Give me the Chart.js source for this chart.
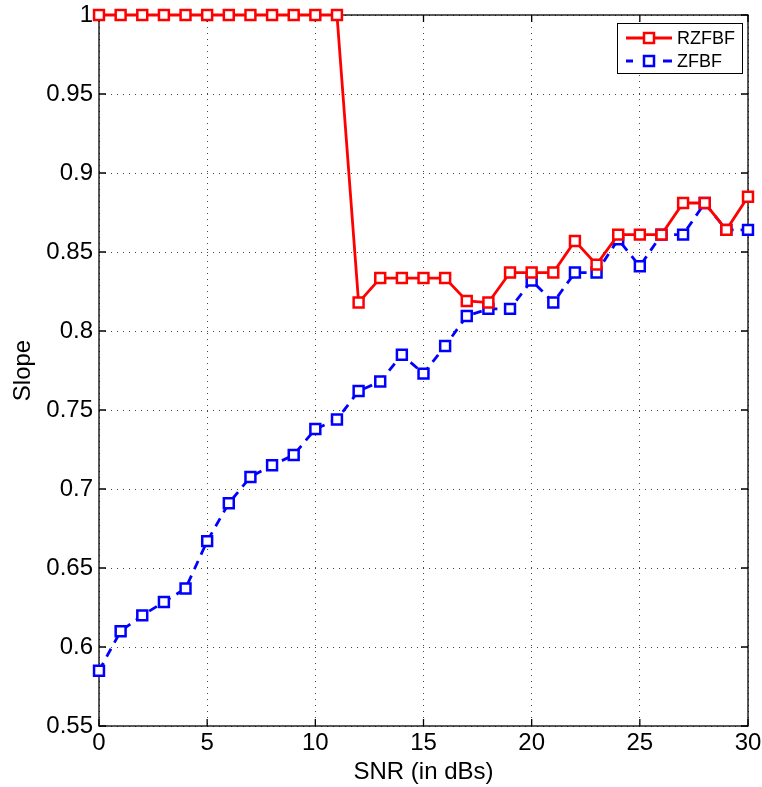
<!DOCTYPE html>
<html>
<head>
<meta charset="utf-8">
<script src="https://cdn.jsdelivr.net/npm/chart.js@4/dist/chart.umd.min.js"></script>
<style>
  html,body{margin:0;padding:0;background:#fff;}
  #wrap{width:762px;height:787px;position:relative;}
</style>
</head>
<body>
<div id="wrap"><canvas id="c" width="762" height="787"></canvas></div>
<script>
const snr = [0,1,2,3,4,5,6,7,8,9,10,11,12,13,14,15,16,17,18,19,20,21,22,23,24,25,26,27,28,29,30];
const rzfbf = [1,1,1,1,1,1,1,1,1,1,1,1,0.818,0.8335,0.8335,0.8335,0.8335,0.819,0.818,0.837,0.837,0.837,0.857,0.842,0.861,0.861,0.861,0.881,0.881,0.864,0.885];
const zfbf = [0.585,0.610,0.620,0.6285,0.637,0.667,0.691,0.7076,0.715,0.7215,0.738,0.744,0.762,0.768,0.785,0.773,0.7905,0.8095,0.814,0.814,0.832,0.818,0.837,0.837,0.858,0.841,0.861,0.861,0.881,0.864,0.864];
const seriesNames = ['RZFBF','ZFBF'];
const yTicks = [0.55,0.6,0.65,0.7,0.75,0.8,0.85,0.9,0.95,1];
const xTicks = [0,5,10,15,20,25,30];

const FONT = "'Liberation Sans', Arial, Helvetica, sans-serif";

const framePlugin = {
  id: 'frame',
  beforeDatasetsDraw(chart) {
    const {ctx, chartArea: a, scales: {x, y}} = chart;
    ctx.save();
    ctx.strokeStyle = '#000';
    ctx.lineWidth = 1.3;
    ctx.strokeRect(a.left, a.top, a.right - a.left, a.bottom - a.top);
    ctx.beginPath();
    x.ticks.forEach(t => {
      const px = x.getPixelForValue(t.value);
      ctx.moveTo(px, a.bottom); ctx.lineTo(px, a.bottom - 7);
      ctx.moveTo(px, a.top); ctx.lineTo(px, a.top + 7);
    });
    y.ticks.forEach(t => {
      const py = y.getPixelForValue(t.value);
      ctx.moveTo(a.left, py); ctx.lineTo(a.left + 7, py);
      ctx.moveTo(a.right, py); ctx.lineTo(a.right - 7, py);
    });
    ctx.stroke();
    ctx.restore();
  }
};

const legendPlugin = {
  id: 'boxLegend',
  afterDraw(chart) {
    const {ctx, chartArea: a} = chart;
    const bw = 125, bh = 50;
    const bx = a.right - 6 - bw, by = a.top + 8;
    ctx.save();
    ctx.fillStyle = '#fff';
    ctx.fillRect(bx, by, bw, bh);
    ctx.strokeStyle = '#000';
    ctx.lineWidth = 1;
    ctx.strokeRect(bx + 0.5, by + 0.5, bw, bh);
    chart.data.datasets.forEach((ds, i) => {
      const yy = by + 15 + i * 23;
      ctx.strokeStyle = ds.borderColor;
      ctx.lineWidth = ds.borderWidth;
      ctx.setLineDash([]);
      ctx.beginPath();
      if (ds.borderDash) {
        ctx.moveTo(bx + 9, yy); ctx.lineTo(bx + 16, yy);
        ctx.moveTo(bx + 46, yy); ctx.lineTo(bx + 55, yy);
      } else {
        ctx.moveTo(bx + 9, yy); ctx.lineTo(bx + 55, yy);
      }
      ctx.stroke();
      ctx.lineWidth = ds.pointBorderWidth;
      ctx.fillStyle = '#fff';
      ctx.fillRect(bx + 27, yy - 5, 10, 10);
      ctx.strokeRect(bx + 27, yy - 5, 10, 10);
      ctx.fillStyle = '#000';
      ctx.font = '18px ' + FONT;
      ctx.textBaseline = 'middle';
      ctx.fillText(ds.label, bx + 60, yy + 1);
    });
    ctx.restore();
  }
};

const toXY = arr => snr.map((s, i) => ({x: s, y: arr[i]}));

new Chart(document.getElementById('c'), {
  type: 'line',
  data: {
    datasets: [
      {
        label: seriesNames[0],
        data: toXY(rzfbf),
        borderColor: '#ff0000',
        borderWidth: 2.8,
        pointStyle: 'rect',
        pointRadius: 7,
        pointBorderWidth: 2.5,
        pointBackgroundColor: '#fff',
        pointBorderColor: '#ff0000',
        tension: 0,
        clip: false
      },
      {
        label: seriesNames[1],
        data: toXY(zfbf),
        borderColor: '#0000ff',
        borderWidth: 2.8,
        borderDash: [9, 7],
        pointStyle: 'rect',
        pointRadius: 7,
        pointBorderWidth: 2.5,
        pointBackgroundColor: '#fff',
        pointBorderColor: '#0000ff',
        tension: 0,
        clip: false
      }
    ]
  },
  options: {
    responsive: false,
    animation: false,
    layout: {padding: 0},
    plugins: {legend: {display: false}, tooltip: {enabled: false}},
    scales: {
      x: {
        type: 'linear',
        min: 0, max: 30,
        afterBuildTicks: s => { s.ticks = xTicks.map(v => ({value: v})); },
        afterFit: s => { s.height = 61; s.paddingLeft = 0; s.paddingRight = 14; },
        ticks: {color: '#000', font: {family: FONT, size: 24}, padding: 3, maxRotation: 0,
                callback: v => String(v)},
        grid: {color: '#444', lineWidth: 1, drawTicks: false},
        border: {display: false, dash: [1, 5]},
        title: {display: true, text: 'SNR (in dBs)', color: '#000', font: {family: FONT, size: 24}, padding: {top: 0, bottom: 0}}
      },
      y: {
        type: 'linear',
        min: 0.55, max: 1,
        afterBuildTicks: s => { s.ticks = yTicks.map(v => ({value: v})); },
        afterFit: s => { s.width = 99; s.paddingTop = 15; s.paddingBottom = 0; },
        ticks: {color: '#000', font: {family: FONT, size: 24}, padding: 6,
                callback: v => String(+(+v).toFixed(2))},
        grid: {color: '#444', lineWidth: 1, drawTicks: false},
        border: {display: false, dash: [1, 5]},
        title: {display: true, text: 'Slope', color: '#000', font: {family: FONT, size: 24}, padding: {top: 9, bottom: 0}}
      }
    }
  },
  plugins: [framePlugin, legendPlugin]
});
</script>
</body>
</html>
